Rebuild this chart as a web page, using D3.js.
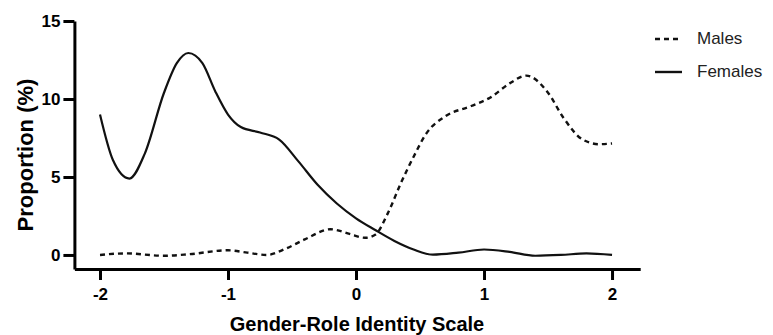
<!DOCTYPE html>
<html>
<head>
<meta charset="utf-8">
<script src="https://cdn.jsdelivr.net/npm/d3@7"></script>
<style>
  body { margin: 0; background: #fff; }
  svg { display: block; }
</style>
</head>
<body>
<div id="chart"></div>
<script>
// values
const femaleX = [-2, -1.9, -1.77, -1.65, -1.5, -1.4, -1.31, -1.2, -1.1, -1.0, -0.9, -0.75, -0.6, -0.45, -0.3, -0.15, 0, 0.15, 0.3, 0.45, 0.6, 0.8, 1.0, 1.2, 1.4, 1.6, 1.8, 2.0];
const femaleY = [9.0, 6.1, 4.9, 6.5, 10.4, 12.3, 12.95, 12.3, 10.5, 9.0, 8.2, 7.85, 7.4, 6.0, 4.5, 3.3, 2.35, 1.6, 0.9, 0.35, 0.02, 0.15, 0.35, 0.2, -0.05, 0.0, 0.1, 0.0];

const maleX = [-2, -1.8, -1.5, -1.3, -1.0, -0.85, -0.7, -0.55, -0.4, -0.2, -0.05, 0.07, 0.15, 0.25, 0.35, 0.45, 0.55, 0.7, 0.9, 1.05, 1.2, 1.33, 1.5, 1.62, 1.77, 1.9, 2.0];
const maleY = [0, 0.1, -0.05, 0.05, 0.3, 0.15, 0.0, 0.4, 1.0, 1.65, 1.35, 1.1, 1.3, 2.7, 4.6, 6.3, 7.8, 8.9, 9.55, 10.1, 11.0, 11.5, 10.4, 8.8, 7.4, 7.1, 7.15];

const xTicks = [-2, -1, 0, 1, 2];
const yTicks = [0, 5, 10, 15];

const seriesNames = ["Males", "Females"];

const width = 773, height = 335;
const font = "'Liberation Sans', Arial, sans-serif";

const svg = d3.select("#chart")
  .append("svg")
  .attr("width", width)
  .attr("height", height);

const x = d3.scaleLinear().domain([-2.2, 2.22]).range([74.4, 640.2]);
const y = d3.scaleLinear().domain([-0.9, 15]).range([269, 21]);

const line = d3.line()
  .x(d => x(d[0]))
  .y(d => y(d[1]))
  .curve(d3.curveMonotoneX);

const males = maleX.map((v, i) => [v, maleY[i]]);
const females = femaleX.map((v, i) => [v, femaleY[i]]);

// lines
svg.append("path")
  .attr("d", line(females))
  .attr("fill", "none")
  .attr("stroke", "#111")
  .attr("stroke-width", 2.2);

svg.append("path")
  .attr("d", line(males))
  .attr("fill", "none")
  .attr("stroke", "#111")
  .attr("stroke-width", 2.4)
  .attr("stroke-dasharray", "5,4");

// axes
const yAxis = svg.append("g")
  .attr("transform", `translate(${x(-2.2)},0)`)
  .call(d3.axisLeft(y).tickValues(yTicks).tickFormat(d => String(d))
    .tickSize(11).tickSizeOuter(0).tickPadding(3));

const xAxis = svg.append("g")
  .attr("transform", `translate(0,${y(-0.9)})`)
  .call(d3.axisBottom(x).tickValues(xTicks).tickFormat(d => String(d))
    .tickSize(11).tickSizeOuter(0).tickPadding(8));

[xAxis, yAxis].forEach(g => {
  g.select(".domain").attr("stroke", "#000").attr("stroke-width", 3);
  g.selectAll(".tick line").attr("stroke", "#000").attr("stroke-width", 3);
  g.selectAll(".tick text")
    .attr("fill", "#000")
    .style("font-family", font)
    .style("font-size", "17px")
    .style("font-weight", "bold");
});

// axis titles
svg.append("text")
  .attr("x", 357)
  .attr("y", 331)
  .attr("text-anchor", "middle")
  .style("font-family", font)
  .style("font-size", "20px")
  .style("font-weight", "bold")
  .text("Gender-Role Identity Scale");

svg.append("text")
  .attr("transform", "translate(33,155) rotate(-90)")
  .attr("text-anchor", "middle")
  .style("font-family", font)
  .style("font-size", "22px")
  .style("font-weight", "bold")
  .text("Proportion (%)");

// legend
const legend = svg.selectAll(".legend")
  .data(seriesNames)
  .enter()
  .append("g")
  .attr("transform", (d, i) => `translate(655,${39 + i * 33})`);

legend.append("line")
  .attr("x1", 0).attr("x2", 27)
  .attr("stroke", "#111")
  .attr("stroke-width", 2.4)
  .attr("stroke-dasharray", d => d === "Males" ? "5,4" : null);

legend.append("text")
  .attr("x", 42)
  .attr("y", 5)
  .style("font-family", font)
  .style("font-size", "17px")
  .attr("fill", "#222")
  .text(d => d);
</script>
</body>
</html>
